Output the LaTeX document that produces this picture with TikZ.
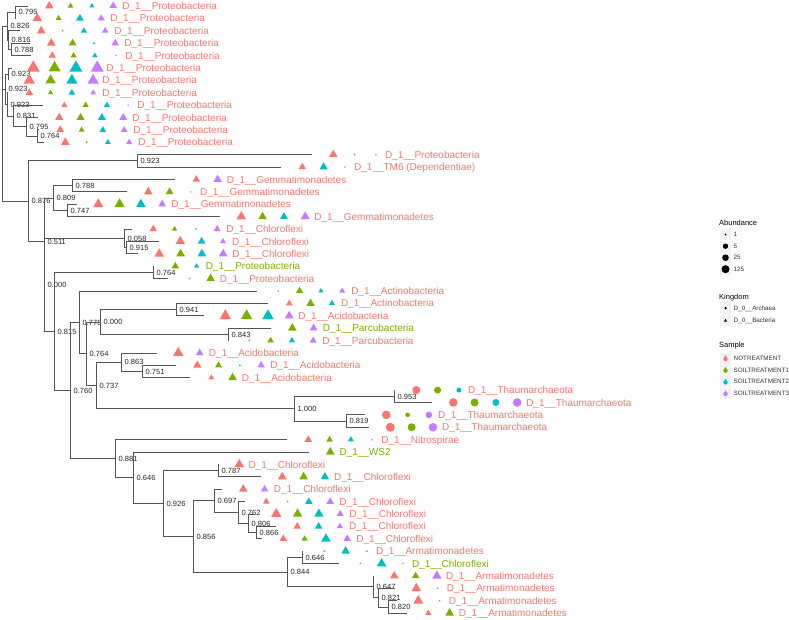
\documentclass[tikz,border=0pt]{standalone}
\usepackage{fontspec}
\setmainfont{Liberation Sans}
\definecolor{sal}{HTML}{F8766D}
\definecolor{grn}{HTML}{7CAE00}
\definecolor{tea}{HTML}{00BFC4}
\definecolor{pur}{HTML}{C77CFF}
\definecolor{edgecol}{HTML}{555555}
\definecolor{keybg}{HTML}{F2F2F2}
\newcommand\mktri[4]{\fill[#4] ({#1},{#2-#3}) -- ({#1+0.866*#3},{#2+0.5*#3}) -- ({#1-0.866*#3},{#2+0.5*#3}) -- cycle;}
\newcommand\mkcirc[4]{\fill[#4] ({#1},{#2}) circle[radius=#3pt];}
\newcommand\leaf[7]{%
  \pgfmathsetmacro\yy{6+(#1-1)*12.39}%
  \coordinate (t#1) at (#2,\yy);
  \foreach \mcol/\mrad [count=\k] in {#4}{%
    \pgfmathsetmacro\mx{#2+21.3*\k}%
    \csname mk#3\endcsname{\mx}{\yy}{\mrad}{\mcol}%
  }
  \pgfmathsetmacro\lx{#2+21.3*#5+9}%
  \node[leaflab, text=#7] (lab#1) at ({\lx},{\yy+3.6}) {D\_1\_\_#6};
}
\newcommand\inode[4]{\coordinate (#1) at (#2,#3); \node[blab] (lb#1) at ({#2+3.5},{#3+2.7}) {#4};}
\tikzset{
  leaflab/.style={anchor=base west, inner sep=0pt, font=\fontsize{10}{12}\selectfont},
  blab/.style={anchor=base west, inner sep=0pt, text=black!85, font=\fontsize{7.5}{9}\selectfont},
  edgeline/.style={draw=edgecol, line width=0.8pt},
  legtitle/.style={anchor=base west, inner sep=0pt, text=black, font=\fontsize{7.5}{9}\selectfont},
  leglab/.style={anchor=base west, inner sep=0pt, text=black!80, font=\fontsize{6.3}{8}\selectfont},
}
\begin{document}
\begin{tikzpicture}[x=1pt,y=-1pt]
\fill[white] (0,0) rectangle (789,620);
\useasboundingbox (0,0) rectangle (789,620);
% internal nodes
\coordinate (R) at (2,113.7);
\inode{A}{15}{12.2}{0.795}
\inode{D}{11}{49.37}{0.788}
\inode{C}{8}{40.07}{0.816}
\inode{B}{7}{26.13}{0.826}
\inode{F}{8}{74.15}{0.923}
\inode{K}{37}{136.1}{0.764}
\inode{J}{26}{126.8}{0.795}
\inode{I}{13}{115.96}{0.831}
\inode{H}{7}{104.35}{0.923}
\inode{G}{5}{89.25}{0.923}
\inode{Na}{137}{160.88}{0.923}
\inode{Nb}{72}{185.66}{0.788}
\inode{Nc}{67}{210.44}{0.747}
\inode{Nd}{53}{198.05}{0.809}
\inode{Ne}{126}{247.6}{0.915}
\inode{Nf}{124}{238.3}{0.058}
\inode{Ng}{153}{272.4}{0.764}
\inode{Nh}{176}{309.56}{0.941}
\inode{Ni}{228}{334.34}{0.843}
\inode{Nj}{100}{321.95}{0.000}
\inode{Nk}{142}{371.5}{0.751}
\inode{Nl}{121}{362.2}{0.863}
\inode{Nm}{394}{396.3}{0.953}
\inode{Nn}{346}{421.07}{0.819}
\inode{No}{294}{408.7}{1.000}
\inode{Np}{96}{385.45}{0.737}
\inode{Nq}{86}{353.7}{0.764}
\inode{Nr}{79}{322.3}{0.778}
\inode{Ns}{218}{470.6}{0.787}
\inode{Nt}{256}{532.6}{0.866}
\inode{Nu}{248}{523.3}{0.806}
\inode{Nv}{238}{512.45}{0.762}
\inode{Nw}{214}{500.8}{0.697}
\inode{Nx}{302}{557.36}{0.646}
\inode{Ny}{388}{606.9}{0.820}
\inode{Nz}{378}{597.6}{0.821}
\inode{Pa}{373}{586.8}{0.647}
\inode{Pb}{287}{572.1}{0.844}
\inode{Pc}{193}{536.4}{0.856}
\inode{Pd}{163}{503.5}{0.926}
\inode{Pe}{133}{477.8}{0.646}
\inode{Pf}{115}{458.7}{0.881}
\inode{Pg}{70}{390.5}{0.760}
\inode{Ph}{54}{331.45}{0.815}
\inode{Pi}{44}{284.9}{0.000}
\inode{Pj}{44}{241.5}{0.511}
\inode{Pk}{28}{201.2}{0.876}
% leaves
\leaf{1}{28}{tri}{sal/5,grn/3.3,tea/3,pur/4.5}{4}{Proteobacteria}{sal}
\leaf{2}{16}{tri}{sal/5.5,grn/3.5,tea/4.5,pur/4}{4}{Proteobacteria}{sal}
\leaf{3}{20}{tri}{sal/5,grn/1.2,tea/3.5,pur/3.8}{4}{Proteobacteria}{sal}
\leaf{4}{30}{tri}{sal/5,grn/4.5,tea/1.2,pur/4.3}{4}{Proteobacteria}{sal}
\leaf{5}{31}{tri}{sal/4.3,grn/3.5,tea/3,pur/1.2}{4}{Proteobacteria}{sal}
\leaf{6}{12}{tri}{sal/7.5,grn/7,tea/7.5,pur/7.5}{4}{Proteobacteria}{sal}
\leaf{7}{8}{tri}{sal/6.5,grn/6,tea/6.5,pur/6.5}{4}{Proteobacteria}{sal}
\leaf{8}{8}{tri}{sal/4.3,grn/3,tea/3.8,pur/3.3}{4}{Proteobacteria}{sal}
\leaf{9}{43}{tri}{sal/3.5,grn/3.5,tea/3.5,pur/1.2}{4}{Proteobacteria}{sal}
\leaf{10}{38}{tri}{sal/4.8,grn/4.5,tea/4.5,pur/4.5}{4}{Proteobacteria}{sal}
\leaf{11}{39}{tri}{sal/4.5,grn/3.3,tea/3.8,pur/3.8}{4}{Proteobacteria}{sal}
\leaf{12}{44}{tri}{sal/5,grn/1.2,tea/3.3,pur/3.5}{4}{Proteobacteria}{sal}
\leaf{13}{312}{tri}{sal/5,tea/1.2,pur/1.2}{3}{Proteobacteria}{sal}
\leaf{14}{281}{tri}{sal/4.3,tea/4.8,pur/1.2}{3}{TM6 (Dependentiae)}{sal}
\leaf{15}{175}{tri}{sal/4.3,pur/4.8}{2}{Gemmatimonadetes}{sal}
\leaf{16}{127}{tri}{sal/5,grn/4.5,pur/1.2}{3}{Gemmatimonadetes}{sal}
\leaf{17}{77}{tri}{sal/6,grn/6,tea/5.5,pur/4.5}{4}{Gemmatimonadetes}{sal}
\leaf{18}{220}{tri}{sal/5.5,grn/4.8,tea/4.5,pur/5.2}{4}{Gemmatimonadetes}{sal}
\leaf{19}{132}{tri}{sal/4.3,grn/3,tea/1.2,pur/4}{4}{Chloroflexi}{sal}
\leaf{20}{159}{tri}{sal/5.5,tea/4.5,pur/3.5}{3}{Chloroflexi}{sal}
\leaf{21}{138}{tri}{sal/5.5,grn/5,tea/5,pur/5}{4}{Chloroflexi}{sal}
\leaf{22}{154}{tri}{grn/4.3,tea/3}{2}{Proteobacteria}{grn}
\leaf{23}{168}{tri}{sal/1.2,grn/5}{2}{Proteobacteria}{sal}
\leaf{24}{257}{tri}{sal/1.2,grn/4.3,tea/3,pur/3.5}{4}{Actinobacteria}{sal}
\leaf{25}{268}{tri}{sal/3.8,grn/4.8,tea/3.5}{3}{Actinobacteria}{sal}
\leaf{26}{204}{tri}{sal/6.5,grn/6.5,tea/6.5,pur/5}{4}{Acidobacteria}{sal}
\leaf{27}{271}{tri}{grn/5,pur/4.5}{2}{Parcubacteria}{grn}
\leaf{28}{228}{tri}{sal/1.2,grn/3.8,tea/3.5,pur/4}{4}{Parcubacteria}{sal}
\leaf{29}{157}{tri}{sal/6,pur/4.3}{2}{Acidobacteria}{sal}
\leaf{30}{176}{tri}{sal/4.8,grn/4,tea/1.2,pur/4.3}{4}{Acidobacteria}{sal}
\leaf{31}{190}{tri}{sal/3.3,grn/5}{2}{Acidobacteria}{sal}
\leaf{32}{395}{circ}{sal/4,grn/3.5,tea/2.5}{3}{Thaumarchaeota}{sal}
\leaf{33}{432}{circ}{sal/4.3,grn/4,tea/3.5,pur/4.3}{4}{Thaumarchaeota}{sal}
\leaf{34}{365}{circ}{sal/4.3,grn/2.3,pur/3.3}{3}{Thaumarchaeota}{sal}
\leaf{35}{369}{circ}{sal/4.5,grn/4,pur/4.3}{3}{Thaumarchaeota}{sal}
\leaf{36}{287}{tri}{sal/4.3,grn/3.8,tea/3.5,pur/1.2}{4}{Nitrospirae}{sal}
\leaf{37}{309}{tri}{grn/5}{1}{WS2}{grn}
\leaf{38}{218}{tri}{sal/5.5}{1}{Chloroflexi}{sal}
\leaf{39}{261}{tri}{sal/5,grn/5,tea/4.8}{3}{Chloroflexi}{sal}
\leaf{40}{222}{tri}{sal/5,pur/4.3}{2}{Chloroflexi}{sal}
\leaf{41}{245}{tri}{sal/3.8,grn/1.2,tea/4.3,pur/4.3}{4}{Chloroflexi}{sal}
\leaf{42}{255}{tri}{sal/6,grn/5.5,tea/5.5,pur/4}{4}{Chloroflexi}{sal}
\leaf{43}{276}{tri}{sal/4.3,tea/4.3,pur/3.5}{3}{Chloroflexi}{sal}
\leaf{44}{262}{tri}{sal/4.3,grn/3.5,tea/5.5,pur/4.3}{4}{Chloroflexi}{sal}
\leaf{45}{303}{tri}{sal/1.2,tea/5,pur/1.2}{3}{Armatimonadetes}{sal}
\leaf{46}{339}{tri}{grn/1.2,tea/5.5,pur/1.2}{3}{Chloroflexi}{grn}
\leaf{47}{373}{tri}{sal/5,grn/4.3,pur/5.5}{3}{Armatimonadetes}{sal}
\leaf{48}{395}{tri}{sal/5.5,pur/1.2}{2}{Armatimonadetes}{sal}
\leaf{49}{397}{tri}{sal/5.8,grn/1.2}{2}{Armatimonadetes}{sal}
\leaf{50}{407}{tri}{sal/3.5,grn/5}{2}{Armatimonadetes}{sal}
% edges
\foreach \p/\q in {R/B,R/G,R/Pk,B/A,B/C,A/t1,A/t2,C/t3,C/D,D/t4,D/t5,
  G/F,G/H,F/t6,F/t7,H/t8,H/I,I/t9,I/J,J/t10,J/K,K/t11,K/t12,
  Pk/Na,Pk/Pj,Na/t13,Na/t14,Pj/Nd,Pj/Pi,Nd/Nb,Nd/Nc,Nb/t15,Nb/t16,Nc/t17,Nc/t18,
  Pi/Nf,Pi/Ph,Nf/t19,Nf/Ne,Ne/t20,Ne/t21,Ph/Ng,Ph/Pg,Ng/t22,Ng/t23,
  Pg/Nr,Pg/Pf,Nr/t24,Nr/Nq,Nq/Nj,Nq/Np,Nj/Nh,Nj/Ni,Nh/t25,Nh/t26,Ni/t27,Ni/t28,
  Np/Nl,Np/No,Nl/t29,Nl/Nk,Nk/t30,Nk/t31,No/Nm,No/Nn,Nm/t32,Nm/t33,Nn/t34,Nn/t35,
  Pf/t36,Pf/Pe,Pe/t37,Pe/Pd,Pd/Ns,Pd/Pc,Ns/t38,Ns/t39,Pc/Nw,Pc/Pb,Nw/t40,Nw/Nv,
  Nv/t41,Nv/Nu,Nu/t42,Nu/Nt,Nt/t43,Nt/t44,Pb/Nx,Pb/Pa,Nx/t45,Nx/t46,Pa/t47,Pa/Nz,
  Nz/t48,Nz/Ny,Ny/t49,Ny/t50}
  {\draw[edgeline] (\p) |- (\q);}
% legend: Abundance
\node[legtitle] (ttlab) at (719,225.7) {Abundance};
\foreach \yc/\rr/\lab [count=\i] in {234.7/1/1,246.2/2.7/5,257.7/3.3/25,269.2/4/125}{
  \fill[keybg] (719.8,{\yc-5.6}) rectangle (731.2,{\yc+5.6});
  \fill[black] (725.5,\yc) circle[radius=\rr pt];
  \node[leglab] (ab\i) at (733.5,{\yc+2.2}) {\lab};
}
% legend: Kingdom
\node[legtitle] (ttlk) at (719,299.5) {Kingdom};
\fill[keybg] (719.8,302.4) rectangle (731.2,314);
\fill[keybg] (719.8,314.6) rectangle (731.2,326.2);
\fill[black] (725.5,308.2) circle[radius=1.3pt];
\mktri{725.5}{320.6}{1.8}{black}
\node[leglab] (kg1) at (733.5,310.2) {D\_0\_\_Archaea};
\node[leglab] (kg2) at (733.5,322.9) {D\_0\_\_Bacteria};
% legend: Sample
\node[legtitle] (ttls) at (719,347.7) {Sample};
\foreach \yc/\cc/\lab [count=\i] in {358.3/sal/NOTREATMENT,370/grn/SOILTREATMENT1,381.7/tea/SOILTREATMENT2,393.3/pur/SOILTREATMENT3}{
  \fill[keybg] (719.8,{\yc-5.6}) rectangle (731.2,{\yc+5.6});
  \fill[\cc] (725.5,{\yc+0.8}) circle[radius=2.1pt];
  \mktri{725.5}{\yc-0.6}{2.5}{\cc}
  \node[leglab] (sm\i) at (733.5,{\yc+2.2}) {\lab};
}
\end{tikzpicture}
\end{document}
